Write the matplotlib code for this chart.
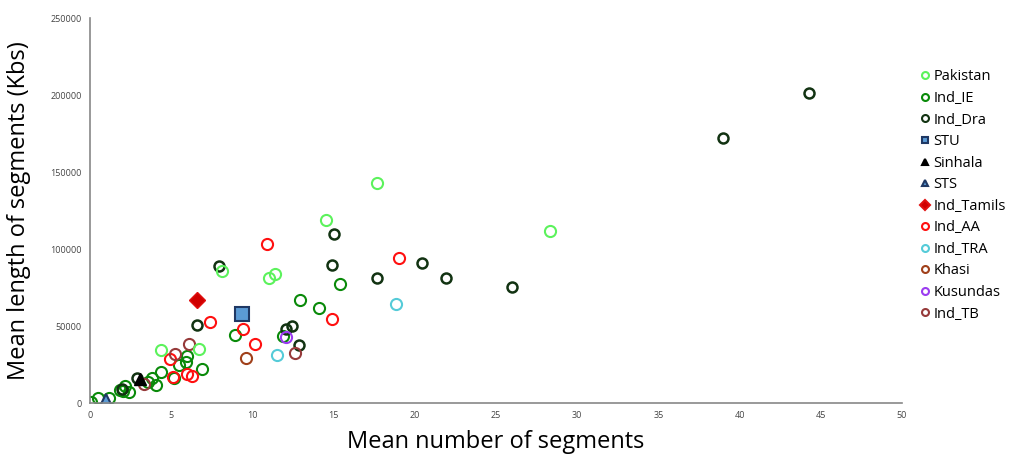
import matplotlib.pyplot as plt
from matplotlib.lines import Line2D

plt.rcParams['font.family'] = ['Open Sans', 'DejaVu Sans']

# mean number of segments (x) / mean length of segments in Kbs (y), per group
pakistan_x = [17.7, 14.55, 28.3, 11.0, 11.4, 8.13, 4.39, 6.69]
pakistan_y = [142800, 119000, 111600, 80900, 83500, 85700, 34600, 34800]

ind_ie_x = [15.41, 12.91, 14.12, 8.91, 11.9, 5.95, 5.89, 5.5, 6.88, 4.39, 5.19,
            3.8, 4.04, 3.59, 2.16, 1.85, 2.42, 2.01, 0.51, 1.17, 0.06]
ind_ie_y = [77200, 66700, 61900, 44300, 43700, 30500, 26800, 24700, 22100, 20300,
            16400, 16400, 11700, 13800, 11000, 8400, 7300, 7800, 3000, 3000, 800]

ind_dra_x = [44.27, 38.98, 20.46, 21.92, 26.0, 15.04, 14.88, 17.65, 12.42, 12.1,
             12.89, 7.92, 6.57, 2.87, 1.95]
ind_dra_y = [201600, 171800, 91100, 81100, 75100, 109700, 89600, 81300, 50200,
             48000, 37600, 89100, 50400, 16000, 8900]

stu_x = [9.34]
stu_y = [57600]

sinhala_x = [3.08]
sinhala_y = [15400]

sts_x = [0.97]
sts_y = [2000]

ind_tamils_x = [6.61]
ind_tamils_y = [66800]

ind_aa_x = [10.88, 19.03, 14.88, 7.41, 9.4, 10.16, 4.95, 5.09, 5.95, 6.26]
ind_aa_y = [103400, 94300, 54300, 52800, 47800, 38500, 28600, 17100, 19000, 17500]

ind_tra_x = [18.84, 11.5]
ind_tra_y = [64200, 31000]

khasi_x = [9.6]
khasi_y = [29200]

kusundas_x = [12.07]
kusundas_y = [42600]

ind_tb_x = [12.62, 6.08, 5.21, 3.34]
ind_tb_y = [32200, 38100, 31800, 12300]

fig = plt.figure(figsize=(10.13, 4.54), dpi=100)
ax = fig.add_axes([0.0888, 0.1123, 0.8016, 0.848])


def open_circles(x, y, color, label, lw=1.5, ms=8):
    ax.plot(x, y, 'o', mfc='none', mec=color, mew=lw, ms=ms, label=label,
            linestyle='none')


open_circles(ind_ie_x, ind_ie_y, '#0a8a0a', 'Ind_IE')
open_circles(ind_dra_x, ind_dra_y, '#123312', 'Ind_Dra', lw=1.8, ms=7.2)
open_circles(ind_aa_x, ind_aa_y, '#ff1010', 'Ind_AA')
open_circles(ind_tra_x, ind_tra_y, '#55cbd8', 'Ind_TRA')
open_circles(khasi_x, khasi_y, '#a0401a', 'Khasi')
open_circles(ind_tb_x, ind_tb_y, '#963a3a', 'Ind_TB')
open_circles(kusundas_x, kusundas_y, '#9b3cf0', 'Kusundas')
open_circles(pakistan_x, pakistan_y, '#5cf25c', 'Pakistan')

ax.plot(stu_x, stu_y, 's', mfc='#5b9bd5', mec='#1f3864', mew=1.5, ms=10,
        label='STU', linestyle='none')
ax.plot(sinhala_x, sinhala_y, '^', mfc='black', mec='black', ms=9,
        label='Sinhala', linestyle='none')
ax.plot(sts_x, sts_y, '^', mfc='#5b9bd5', mec='#1f3864', mew=1.5, ms=8,
        label='STS', linestyle='none')
ax.plot(ind_tamils_x, ind_tamils_y, 'D', mfc='#d00000', mec='#e01010', ms=8,
        label='Ind_Tamils', linestyle='none')

ax.set_xlim(0, 50)
ax.set_ylim(0, 250000)
ax.set_xticks(range(0, 51, 5))
ax.set_yticks(range(0, 250001, 50000))
ax.tick_params(length=0, labelsize=6.5, labelcolor='#444444', pad=6)
for side in ['top', 'right']:
    ax.spines[side].set_visible(False)
for side in ['left', 'bottom']:
    ax.spines[side].set_color('#888888')
    ax.spines[side].set_linewidth(1.2)

ax.set_xlabel('Mean number of segments', fontsize=17, labelpad=7)
ax.set_ylabel('Mean length of segments (Kbs)', fontsize=17, labelpad=14)

order = ['Pakistan', 'Ind_IE', 'Ind_Dra', 'STU', 'Sinhala', 'STS', 'Ind_Tamils',
         'Ind_AA', 'Ind_TRA', 'Khasi', 'Kusundas', 'Ind_TB']
hmap = {h.get_label(): h for h in ax.get_lines()}
handles = []
for name in order:
    h = hmap[name]
    handles.append(Line2D([], [], marker=h.get_marker(), linestyle='none',
                          mfc=h.get_markerfacecolor(), mec=h.get_markeredgecolor(),
                          mew=1.5, ms=5))
fig.legend(handles, order, loc='upper left', bbox_to_anchor=(0.903, 0.86),
           frameon=False, fontsize=10.5, handlelength=0.6, handletextpad=0.3,
           labelspacing=0.45, borderaxespad=0)

fig.savefig('out.png', dpi=100)
